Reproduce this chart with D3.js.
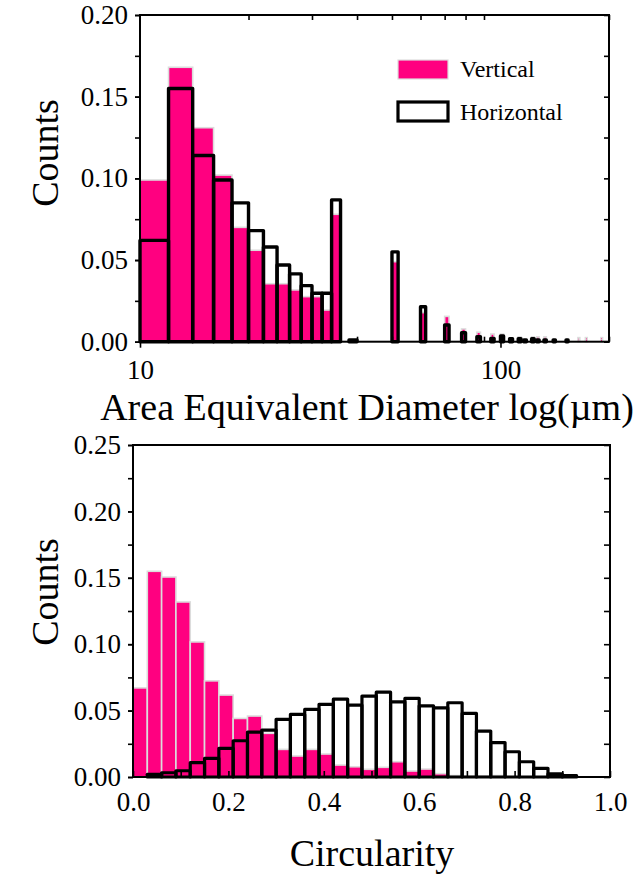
<!DOCTYPE html>
<html lang="en">
<head>
<meta charset="UTF-8">
<title>Particle size and circularity</title>
<script src="https://cdn.jsdelivr.net/npm/d3@7"></script>
<style>
    body { margin: 0; background: #fff; }
    svg text { font-family: "Liberation Serif", "DejaVu Serif", serif; fill: #000; }
    .axis path { display: none; }
    .axis line { stroke: #000; stroke-width: 1.6; }
    .axis text { font-size: 27px; }
    .title { font-size: 38px; }
    .legend { font-size: 24px; }
</style>
</head>
<body>
<script>
// ---- data: area equivalent diameter (um), bins 2 um wide ----
var sizeBinStart = [10, 12, 14, 16, 18, 20, 22, 24, 26, 28, 30, 32, 34, 38, 50, 60, 70, 78, 86, 94,
                    100, 106, 112, 116, 122, 126, 132, 140, 152, 164, 172, 190]
var sizeVertical = [0.099, 0.168, 0.131, 0.102, 0.070, 0.056, 0.0355, 0.0355, 0.0317, 0.0276, 0.0276, 0.0194, 0.078,
                    0, 0.049, 0.0178, 0.0155, 0.0078, 0.0058, 0.0047, 0.0047, 0.002, 0.003, 0, 0.003, 0.003, 0.003,
                    0, 0, 0.0025, 0.0025, 0.0025]
var sizeHorizontal = [0.062, 0.155, 0.114, 0.099, 0.085, 0.068, 0.058, 0.047, 0.0415, 0.0343, 0.0297, 0.0297, 0.0868,
                      0.001, 0.055, 0.0214, 0.0102, 0.0055, 0.003, 0.002, 0.0035, 0.0018, 0.0018, 0.001, 0.0018, 0.001, 0.001,
                      0.001, 0.001, 0, 0, 0]
var sizeBinWidth = 2
var sizeLabelTicks = [10, 100]
var sizeMinorTicks = [20, 30, 40, 50, 60, 70, 80, 90, 200]
var countLabelsTop = [0, 0.05, 0.10, 0.15, 0.20]
var countMinorTop = [0, 0.025, 0.05, 0.075, 0.10, 0.125, 0.15, 0.175, 0.20]

// ---- data: circularity, bins 0.03 wide ----
var circBinStart = [0, 0.03, 0.06, 0.09, 0.12, 0.15, 0.18, 0.21, 0.24, 0.27, 0.30, 0.33, 0.36, 0.39, 0.42, 0.45,
                    0.48, 0.51, 0.54, 0.57, 0.60, 0.63, 0.66, 0.69, 0.72, 0.75, 0.78, 0.81, 0.84, 0.87, 0.90]
var circVertical = [0.0671, 0.1549, 0.1506, 0.1318, 0.1017, 0.0724, 0.0617, 0.0441, 0.0459, 0.0329, 0.0208, 0.0158,
                    0.0208, 0.0173, 0.0090, 0.0077, 0.0058, 0.0073, 0.0115, 0.0045, 0.0060, 0.0025, 0.0011, 0.0008,
                    0.0008, 0.0011, 0, 0, 0, 0, 0]
var circHorizontal = [0, 0.0020, 0.0032, 0.0047, 0.0108, 0.0141, 0.0216, 0.0273, 0.0338, 0.0353, 0.0434, 0.0471,
                      0.0509, 0.0547, 0.0586, 0.0541, 0.0609, 0.0639, 0.0566, 0.0592, 0.0536, 0.0521, 0.0559, 0.0479,
                      0.0346, 0.0259, 0.0190, 0.0115, 0.0065, 0.0023, 0.0010]
var circBinWidth = 0.03
var circLabelTicks = [0, 0.2, 0.4, 0.6, 0.8, 1.0]
var circMinorTicks = [0, 0.1, 0.2, 0.3, 0.4, 0.5, 0.6, 0.7, 0.8, 0.9, 1.0]
var countLabelsBottom = [0, 0.05, 0.10, 0.15, 0.20, 0.25]
var countMinorBottom = [0, 0.025, 0.05, 0.075, 0.10, 0.125, 0.15, 0.175, 0.20, 0.225, 0.25]

var pink = "#ff0080"

var svg = d3.select("body").append("svg")
    .attr("width", 644)
    .attr("height", 881)

// draws vertical (pink) and horizontal (outline) histograms
function drawBars(g, x, y, starts, width, vert, horiz, hStroke) {
    var v = starts.map(function(d, i) { return {x0: d, x1: d + width, v: vert[i]} }).filter(function(d) { return d.v > 0 })
    var h = starts.map(function(d, i) { return {x0: d, x1: d + width, v: horiz[i]} }).filter(function(d) { return d.v > 0 })

    g.selectAll(".vbar").data(v).enter().append("rect")
        .attr("x", function(d) { return x(d.x0) })
        .attr("y", function(d) { return y(d.v) })
        .attr("width", function(d) { return x(d.x1) - x(d.x0) })
        .attr("height", function(d) { return y(0) - y(d.v) })
        .attr("fill", pink)
        .attr("stroke", "#dcdcdc")
        .attr("stroke-width", 1.6)

    g.selectAll(".hbar").data(h).enter().append("rect")
        .attr("x", function(d) { return x(d.x0) })
        .attr("y", function(d) { return y(d.v) })
        .attr("width", function(d) { return x(d.x1) - x(d.x0) })
        .attr("height", function(d) { return y(0) - y(d.v) })
        .attr("fill", "none")
        .attr("stroke", "#000")
        .attr("stroke-width", hStroke)
        .attr("stroke-linejoin", "round")
}

function frame(x0, x1, y0, y1) {
    svg.append("rect")
        .attr("x", x0).attr("y", y0)
        .attr("width", x1 - x0).attr("height", y1 - y0)
        .attr("fill", "none")
        .attr("stroke", "#000")
        .attr("stroke-width", 2)
}

// ================= top panel =================
var x1 = d3.scaleLog().domain([10, 200]).range([140, 609])
var y1 = d3.scaleLinear().domain([0, 0.2]).range([341.7, 15])

drawBars(svg.append("g"), x1, y1, sizeBinStart, sizeBinWidth, sizeVertical, sizeHorizontal, 3.4)
frame(140, 609, 15, 341.7)

svg.append("g").attr("class", "axis").attr("transform", "translate(140,0)")
    .call(d3.axisLeft(y1).tickValues(countMinorTop).tickSize(5).tickFormat(""))
svg.append("g").attr("class", "axis").attr("transform", "translate(140,0)")
    .call(d3.axisLeft(y1).tickValues(countLabelsTop).tickSize(5).tickPadding(7).tickFormat(d3.format(".2f")))
svg.append("g").attr("class", "axis").attr("transform", "translate(609,0)")
    .call(d3.axisRight(y1).tickValues(countMinorTop).tickSize(-5).tickFormat(""))
svg.append("g").attr("class", "axis").attr("transform", "translate(0,15)")
    .call(d3.axisTop(x1).tickValues(sizeMinorTicks).tickSize(-5).tickFormat(""))
svg.append("g").attr("class", "axis").attr("transform", "translate(0,341.7)")
    .call(d3.axisBottom(x1).tickValues(sizeMinorTicks).tickSize(-5).tickFormat(""))
svg.append("g").attr("class", "axis").attr("transform", "translate(0,341.7)")
    .call(d3.axisBottom(x1).tickValues(sizeLabelTicks).tickSize(6).tickPadding(12).tickFormat(d3.format("d")))

svg.append("text").attr("class", "title")
    .attr("x", 367).attr("y", 420)
    .attr("text-anchor", "middle")
    .text("Area Equivalent Diameter log(µm)")
svg.append("text").attr("class", "title")
    .attr("transform", "translate(45,153) rotate(-90)")
    .attr("dy", "0.35em")
    .attr("text-anchor", "middle")
    .text("Counts")

// legend
svg.append("rect").attr("x", 398).attr("y", 60).attr("width", 50).attr("height", 19)
    .attr("fill", pink).attr("stroke", "#dcdcdc").attr("stroke-width", 1.2)
svg.append("text").attr("class", "legend").attr("x", 460).attr("y", 77).text("Vertical")
svg.append("rect").attr("x", 398).attr("y", 102).attr("width", 50).attr("height", 19)
    .attr("fill", "none").attr("stroke", "#000").attr("stroke-width", 3.2)
svg.append("text").attr("class", "legend").attr("x", 460).attr("y", 120).text("Horizontal")

// ================= bottom panel =================
var x2 = d3.scaleLinear().domain([0, 1]).range([133, 610])
var y2 = d3.scaleLinear().domain([0, 0.25]).range([777, 445])

drawBars(svg.append("g"), x2, y2, circBinStart, circBinWidth, circVertical, circHorizontal, 3.2)
frame(133, 610, 445, 777)

svg.append("g").attr("class", "axis").attr("transform", "translate(133,0)")
    .call(d3.axisLeft(y2).tickValues(countMinorBottom).tickSize(5).tickFormat(""))
svg.append("g").attr("class", "axis").attr("transform", "translate(133,0)")
    .call(d3.axisLeft(y2).tickValues(countLabelsBottom).tickSize(5).tickPadding(7).tickFormat(d3.format(".2f")))
svg.append("g").attr("class", "axis").attr("transform", "translate(610,0)")
    .call(d3.axisRight(y2).tickValues(countMinorBottom).tickSize(-6).tickFormat(""))
svg.append("g").attr("class", "axis").attr("transform", "translate(0,777)")
    .call(d3.axisBottom(x2).tickValues(circMinorTicks).tickSize(-6).tickFormat(""))
svg.append("g").attr("class", "axis").attr("transform", "translate(0,777)")
    .call(d3.axisBottom(x2).tickValues(circLabelTicks).tickSize(0).tickPadding(15).tickFormat(d3.format(".1f")))

svg.append("text").attr("class", "title")
    .attr("x", 372).attr("y", 866)
    .attr("text-anchor", "middle")
    .text("Circularity")
svg.append("text").attr("class", "title")
    .attr("transform", "translate(45,592) rotate(-90)")
    .attr("dy", "0.35em")
    .attr("text-anchor", "middle")
    .text("Counts")
</script>
</body>
</html>
